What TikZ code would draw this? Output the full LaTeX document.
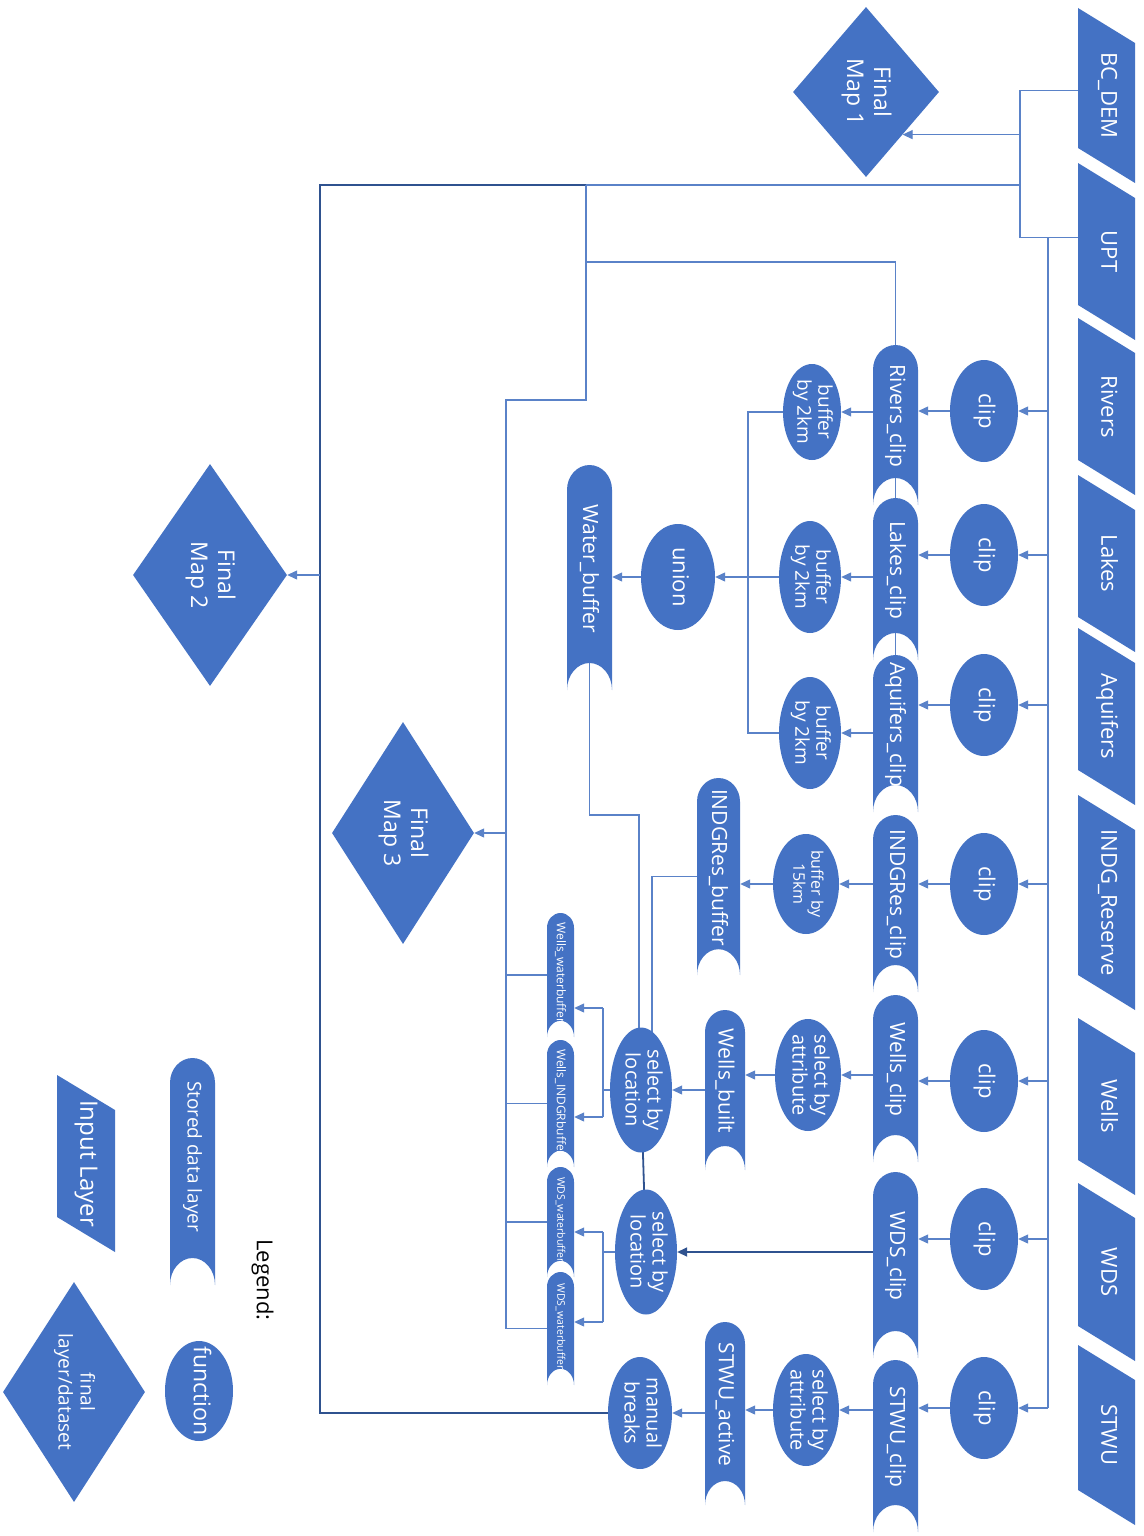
\documentclass[tikz,border=0pt]{standalone}
\usepackage{fontspec}
\setmainfont{Open Sans}
\usepackage{graphicx}
\usetikzlibrary{shapes.geometric,arrows.meta,calc,backgrounds}
\definecolor{mainblue}{HTML}{4472C4}
\definecolor{lineblue}{HTML}{5A82C8}
\definecolor{darkblue}{HTML}{2F528F}
\newcommand\vtext[1]{\rotatebox{-90}{\begin{tabular}{@{}c@{}}#1\end{tabular}}}
\newcommand\stext[2][18pt]{\rotatebox{-90}{#2\hspace{#1}}}
\tikzset{
  fs/.style 2 args={font=\fontsize{#1}{#2}\selectfont},
  inlayer/.style 2 args={rectangle, inner sep=0pt, minimum width=#1, minimum height=#2, text=white,
    path picture={\fill[mainblue] (path picture bounding box.north west)
      -- ([yshift=-35pt]path picture bounding box.north east)
      -- (path picture bounding box.south east)
      -- ([yshift=35pt]path picture bounding box.south west) -- cycle;}},
  stored/.style 2 args={rectangle, inner sep=0pt, minimum width=#1, minimum height=#2, text=white,
    path picture={\fill[mainblue] (path picture bounding box.south west)
      -- ([yshift=-0.55*#1]path picture bounding box.north west)
      arc[start angle=180,end angle=0,x radius=0.5*#1,y radius=0.55*#1]
      -- (path picture bounding box.south east)
      arc[start angle=0,end angle=180,x radius=0.5*#1,y radius=0.6*#1] -- cycle;}},
  func/.style={ellipse, fill=mainblue, inner sep=-10pt, text=white},
  final/.style={diamond, fill=mainblue, inner sep=-15pt, text=white},
  conn/.style={draw=lineblue, line width=1.2pt},
  arr/.style={conn, -{Triangle[length=10pt,width=9pt]}},
  dk/.style={draw=darkblue, line width=1.8pt},
}
\begin{document}
\begin{tikzpicture}[x=1pt,y=-1pt]
\begin{scope}[on background layer]
\fill[white] (0,0) rectangle (1143,1536);
\end{scope}
\useasboundingbox (0,0) rectangle (1143,1536);

% ---------- input layers
\begin{scope}[every node/.append style={fs={22}{26}}]
\node[inlayer={57pt}{175pt}] (in1) at (1106.5,95.5) {\vtext{BC\_DEM}};
\node[inlayer={57pt}{177pt}] (in2) at (1106.5,251.5) {\vtext{UPT}};
\node[inlayer={57pt}{177pt}] (in3) at (1106.5,406.5) {\vtext{Rivers}};
\node[inlayer={57pt}{177pt}] (in4) at (1106.5,563.5) {\vtext{Lakes}};
\node[inlayer={57pt}{177pt}] (in5) at (1106.5,716.5) {\vtext{Aquifers}};
\node[inlayer={57pt}{215pt}] (in6) at (1106.5,902.5) {\vtext{INDG\_Reserve}};
\node[inlayer={57pt}{177pt}] (in7) at (1106.5,1106.5) {\vtext{Wells}};
\node[inlayer={57pt}{178pt}] (in8) at (1106.5,1272) {\vtext{WDS}};
\node[inlayer={57pt}{180pt}] (in9) at (1106.5,1435) {\vtext{STWU}};
\end{scope}

% ---------- clip functions
\foreach \n/\y in {1/411,2/555,3/705,4/884,5/1081,6/1239,7/1408}
  \node[func, minimum width=68pt, minimum height=102pt, fs={22}{26}] (c\n) at (984,\y) {\vtext{clip}};

% ---------- clipped layers
\begin{scope}[every node/.append style={fs={21}{25}}]
\node[stored={45pt}{160pt}] (s1) at (895.5,425) {\stext{Rivers\_clip}};
\node[stored={45pt}{162pt}] (s2) at (895.5,579) {\stext{Lakes\_clip}};
\node[stored={45pt}{157pt}] (s3) at (895.5,733.5) {\stext{Aquifers\_clip}};
\node[stored={45pt}{177pt}] (s4) at (895.5,903.5) {\stext{INDGRes\_clip}};
\node[stored={45pt}{167pt}] (s5) at (895.5,1078.5) {\stext{Wells\_clip}};
\node[stored={45pt}{186pt}] (s6) at (895.5,1265) {\stext{WDS\_clip}};
\node[stored={45pt}{172pt}] (s7) at (895.5,1446) {\stext{STWU\_clip}};
\node[stored={45pt}{225pt}] (wb) at (589.5,577.5) {\stext{Water\_buffer}};
\node[stored={43pt}{197pt}] (ib) at (718.5,876.5) {\stext{INDGRes\_buffer}};
\node[stored={40pt}{160pt}] (wbu) at (725,1090) {\stext{Wells\_built}};
\node[stored={40pt}{183pt}] (sta) at (725,1413.5) {\stext{STWU\_active}};
\end{scope}

% ---------- other functions
\node[func, minimum width=58pt, minimum height=96pt, fs={19}{21}] (b1) at (812,412) {\vtext{buffer\\by 2km}};
\node[func, minimum width=62pt, minimum height=112pt, fs={19}{21}] (b2) at (810,577) {\vtext{buffer\\by 2km}};
\node[func, minimum width=62pt, minimum height=112pt, fs={19}{21}] (b3) at (810,733) {\vtext{buffer\\by 2km}};
\node[func, minimum width=66pt, minimum height=100pt, fs={16}{18}] (b4) at (806,884) {\vtext{buffer by\\15km}};
\node[func, minimum width=74pt, minimum height=106pt, fs={22}{26}] (un) at (678,577) {\vtext{union}};
\node[func, minimum width=66pt, minimum height=112pt, fs={20}{22}] (sa1) at (808,1075) {\vtext{select by\\attribute}};
\node[func, minimum width=62pt, minimum height=125pt, fs={20}{22}] (sl1) at (641,1090) {\vtext{select by\\location}};
\node[func, minimum width=62pt, minimum height=125pt, fs={20}{22}] (sl2) at (646,1252) {\vtext{select by\\location}};
\node[func, minimum width=66pt, minimum height=112pt, fs={20}{22}] (sa2) at (806,1410) {\vtext{select by\\attribute}};
\node[func, minimum width=64pt, minimum height=112pt, fs={20}{22}] (mb) at (640,1413) {\vtext{manual\\breaks}};

% ---------- small output layers
\node[stored={27pt}{124pt}, fs={12}{14}] (w1) at (560.5,975) {\stext[4pt]{Wells\_waterbuffer}};
\node[stored={27pt}{127pt}, fs={12}{14}] (w2) at (560.5,1103.5) {\stext[2pt]{Wells\_INDGRbuffer}};
\node[stored={27pt}{110pt}, fs={10.5}{12}] (w3) at (560.5,1222) {\stext[4pt]{WDS\_waterbuffer}};
\node[stored={27pt}{113pt}, fs={10.5}{12}] (w4) at (560.5,1328.5) {\stext[4pt]{WDS\_waterbuffer}};

% ---------- final maps
\node[final, minimum width=146pt, minimum height=170pt, fs={23}{27}] (fm1) at (866,92) {\vtext{Final\\Map 1}};
\node[final, minimum width=154pt, minimum height=222pt, fs={23}{27}] (fm2) at (210,575) {\vtext{Final\\Map 2}};
\node[final, minimum width=142pt, minimum height=222pt, fs={23}{27}] (fm3) at (403,833) {\vtext{Final\\Map 3}};

% ---------- legend
\node[fs={22}{26}, text=black] (lg) at (262,1280) {\vtext{Legend:}};
\node[stored={45pt}{227pt}, fs={19}{22}] (ls) at (192.5,1171.5) {\stext[30pt]{Stored data layer}};
\node[func, minimum width=68pt, minimum height=100pt, fs={23}{26}] (lf) at (199,1391) {\vtext{function}};
\node[inlayer={58pt}{177pt}, fs={24}{28}] (li) at (86,1163.5) {\vtext{Input Layer}};
\node[final, minimum width=142pt, minimum height=220pt, fs={19}{22}] (ld) at (74,1392) {\vtext{final\\layer/dataset}};

% ---------- junction coordinates
\coordinate (jx) at (1020,185);
\coordinate (bus) at (1048,237);
\coordinate (big) at (320,185);
\coordinate (kA) at (586,185);
\coordinate (kR) at (586,262);
\coordinate (kC) at (506,400);
\coordinate (jb) at (748,577);
\coordinate (jw) at (639,815);
\coordinate (ji) at (652,878);
\coordinate (o1) at (603,1008);
\coordinate (o2) at (603,1117);
\coordinate (o3) at (603,1232);
\coordinate (o4) at (603,1322);

% ---------- connectors behind shapes
\begin{scope}[on background layer]
\draw[conn] (s1.center) -- (s3.center);
\draw[conn] (wb.center) |- (jw) -- (jw |- sl1.center);
\draw[conn] (ib.center) -| (ji |- sl1.center);
\draw[dk] (sl1.center) -- (sl2.center);
\draw[conn] (sl1.center) -- (sl1.center -| o1);
\draw[conn] (sl2.center) -- (sl2.center -| o3);
\end{scope}

% ---------- connectors
\draw[conn] ([yshift=5pt]in1.west) -| (jx);
\draw[conn] ([yshift=14pt]in2.west) -| (jx);
\draw[arr] (fm1.south east -| jx) -- (fm1.south east);
\draw[dk] (mb.west) -| (big) -- (kA);
\draw[conn] (kA) -- (jx);
\draw[arr] (fm2.east -| big) -- (fm2.east);
\draw[conn] (kA) |- (kC) -- (kC |- w4.west);
\draw[conn] (kR) -| (s1.north);
\draw[arr] (fm3.east -| kC) -- (fm3.east);
\foreach \w in {w1,w2,w3,w4} \draw[conn] (kC |- \w.west) -- (\w.west);

\draw[conn] (bus) -- (bus |- c7.east);
\foreach \n in {1,...,7} {
  \draw[arr] (bus |- c\n.east) -- (c\n.east);
  \draw[arr] (c\n.west) -- (c\n.west -| s\n.east);
}

\draw[arr] (b1.east -| s1.west) -- (b1.east);
\draw[arr] (b2.east -| s2.west) -- (b2.east);
\draw[arr] (b3.east -| s3.west) -- (b3.east);
\draw[arr] (b4.east -| s4.west) -- (b4.east);
\draw[arr] (sa1.east -| s5.west) -- (sa1.east);
\draw[arr,dk] (sl2.east -| s6.west) -- (sl2.east);
\draw[arr] (sa2.east -| s7.west) -- (sa2.east);

\draw[conn] (b1.west) -| (jb |- b3.west) -- (b3.west);
\draw[arr] (b2.west) -- (un.east);
\draw[arr] (un.west) -- (un.west -| wb.east);
\draw[arr] (b4.west) -- (b4.west -| ib.east);
\draw[arr] (sa1.west) -- (sa1.west -| wbu.east);
\draw[arr] (sl1.east -| wbu.west) -- (sl1.east);
\draw[arr] (sa2.west) -- (sa2.west -| sta.east);
\draw[arr] (mb.east -| sta.west) -- (mb.east);

\draw[conn] (o1) -- (o2);
\draw[arr] (o1) -- (o1 -| w1.east);
\draw[arr] (o2) -- (o2 -| w2.east);
\draw[conn] (o3) -- (o4);
\draw[arr] (o3) -- (o3 -| w3.east);
\draw[arr] (o4) -- (o4 -| w4.east);
\end{tikzpicture}
\end{document}
